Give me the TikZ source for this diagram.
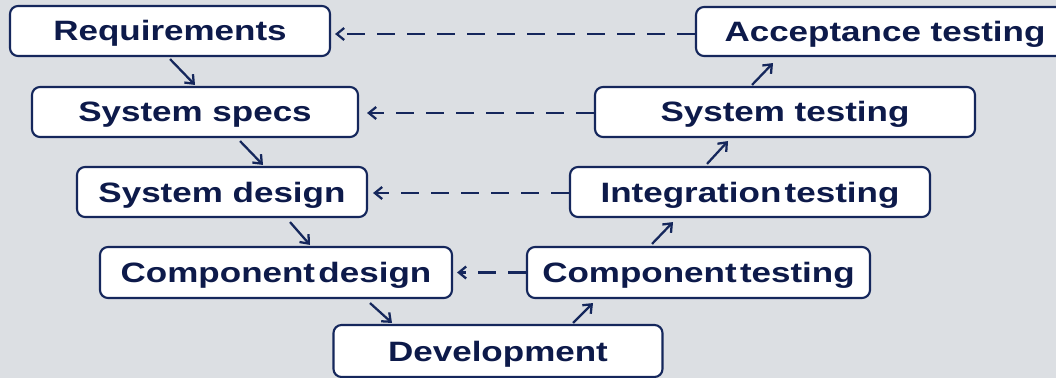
\documentclass[tikz,border=0pt]{standalone}
\usepackage{fontspec}
\setmainfont{Liberation Sans}[FakeStretch=1.25]
\usetikzlibrary{arrows.meta,calc}
\definecolor{bg}{HTML}{DCDFE3}
\definecolor{bordernavy}{HTML}{15275C}
\definecolor{textnavy}{HTML}{0D1A4A}
\tikzset{
  vbox/.style={draw=bordernavy, line width=1.6pt, rounded corners=6pt, fill=white,
    text=textnavy, font=\bfseries\fontsize{21}{21}\selectfont, inner sep=0pt,
    text height=16pt, text depth=1pt, anchor=center},
  flow/.style={draw=bordernavy, line width=1.7pt, -{Straight Barb[length=5.5pt,width=9pt,line width=1.7pt]}},
  back/.style={draw=bordernavy, line width=1.7pt, dash pattern=on 13.5pt off 9pt,
    -{Straight Barb[length=5.5pt,width=9pt,line width=1.7pt]}}
}
\begin{document}
\begin{tikzpicture}[x=0.75pt,y=-0.75pt]
\useasboundingbox (0,0) rectangle (1056,378);
\clip (0,0) rectangle (1056,378);
\fill[bg] (0,0) rectangle (1056,378);
% left side
\node[vbox, minimum width=240pt, minimum height=37.5pt] (req) at (170,31) {Requirements};
\node[vbox, minimum width=244.5pt, minimum height=37.5pt] (specs) at (195,112) {System specs};
\node[vbox, minimum width=217.5pt, minimum height=37.5pt] (sdesign) at (222,192) {System design};
\node[vbox, minimum width=264pt, minimum height=38.25pt] (cdesign) at (276,272.5) {Component\hspace{0.12em}design};
\node[vbox, minimum width=246.75pt, minimum height=39pt] (dev) at (498,351) {Development};
% right side
\node[vbox, minimum width=283.5pt, minimum height=36.75pt] (acc) at (885,31.5) {Acceptance testing};
\node[vbox, minimum width=285pt, minimum height=37.5pt] (stest) at (785,112) {System testing};
\node[vbox, minimum width=270pt, minimum height=37.5pt] (itest) at (750,192) {Integration\hspace{0.12em}testing};
\node[vbox, minimum width=257.25pt, minimum height=38.25pt] (ctest) at (698.5,272.5) {Component\hspace{0.12em}testing};
% solid flow arrows
\draw[flow] ($(req.south)+(0,2)$) -- ($(specs.north)+(0,-1)$);
\draw[flow] ($(specs.south)+(45,3)$) -- ($(sdesign.north)+(41,-1)$);
\draw[flow] ($(sdesign.south)+(68,4)$) -- ($(cdesign.north)+(34,-1)$);
\draw[flow] ($(cdesign.south)+(94,4)$) -- ($(dev.north)+(-106,-1)$);
\draw[flow] ($(dev.north)+(75,-1)$) -- ($(ctest.south)+(-105.5,4)$);
\draw[flow] ($(ctest.north)+(-46.5,-2)$) -- ($(itest.south)+(-77,4)$);
\draw[flow] ($(itest.north)+(-43,-2)$) -- ($(stest.south)+(-57,3)$);
\draw[flow] ($(stest.north)+(-33,-1)$) -- ($(acc.south)+(-112,6)$);
% dashed back arrows
\draw[back] ($(acc.west)+(0,2.5)$) -- ($(req.east)+(4,3)$);
\draw[back] ($(stest.west)+(0,1)$) -- ($(specs.east)+(8,1)$);
\draw[back] ($(itest.west)+(0,1)$) -- ($(sdesign.east)+(5,1)$);
\draw[back] ($(ctest.west)+(0,0)$) -- ($(cdesign.east)+(4,0)$);
\end{tikzpicture}
\end{document}
